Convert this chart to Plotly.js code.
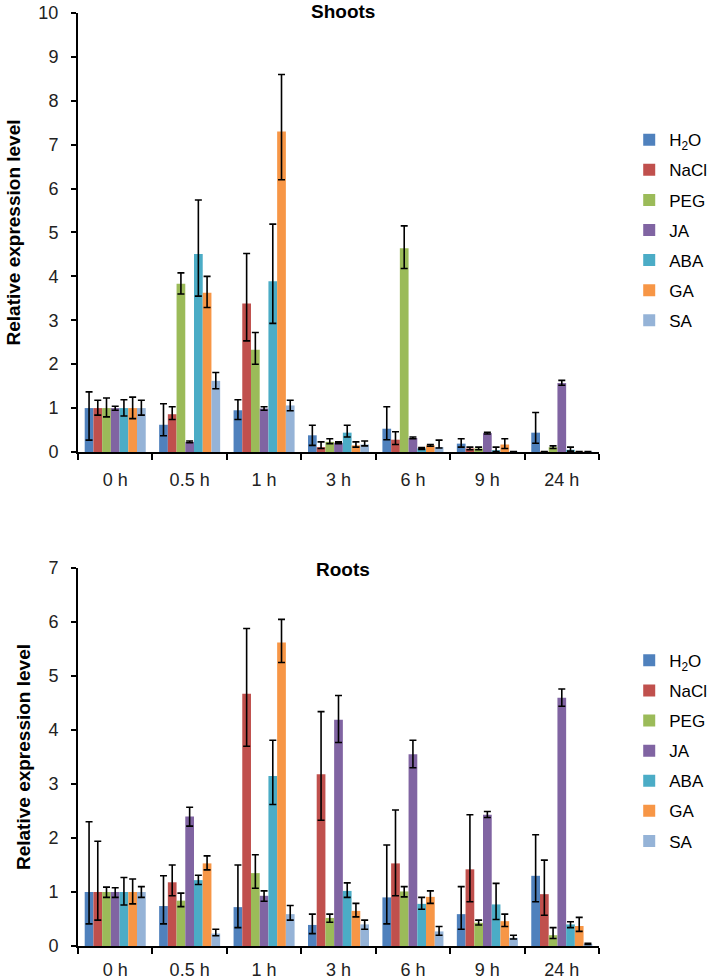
<!DOCTYPE html>
<html>
<head>
<meta charset="utf-8">
<script src="https://cdn.plot.ly/plotly-3.0.1.min.js"></script>
<style>html,body{margin:0;padding:0;background:#fff;}#chart{width:724px;height:980px;}</style>
</head>
<body>
<div id="chart"></div>
<script>
// ---------- data ----------
const timepoints = ["0 h", "0.5 h", "1 h", "3 h", "6 h", "9 h", "24 h"];
const treatments = ["H<sub>2</sub>O", "NaCl", "PEG", "JA", "ABA", "GA", "SA"];

// Shoots
const shootsH2O      = [1.00, 0.62, 0.95, 0.38, 0.53, 0.19, 0.44];
const shootsH2OUp    = [0.37, 0.48, 0.24, 0.23, 0.50, 0.11, 0.46];
const shootsH2ODown  = [0.73, 0.25, 0.21, 0.23, 0.25, 0.08, 0.24];
const shootsNaCl     = [1.00, 0.86, 3.38, 0.11, 0.28, 0.08, 0.01];
const shootsNaClUp   = [0.18, 0.17, 1.14, 0.12, 0.18, 0.03, 0.00];
const shootsNaClDown = [0.16, 0.12, 0.85, 0.03, 0.11, 0.03, 0.00];
const shootsPEG      = [1.00, 3.83, 2.33, 0.23, 4.64, 0.08, 0.11];
const shootsPEGUp    = [0.23, 0.25, 0.39, 0.07, 0.51, 0.03, 0.03];
const shootsPEGDown  = [0.20, 0.23, 0.33, 0.04, 0.46, 0.03, 0.03];
const shootsJA       = [1.00, 0.23, 0.99, 0.21, 0.32, 0.43, 1.57];
const shootsJAUp     = [0.04, 0.02, 0.04, 0.02, 0.02, 0.02, 0.06];
const shootsJADown   = [0.05, 0.02, 0.04, 0.02, 0.02, 0.02, 0.05];
const shootsABA      = [1.00, 4.51, 3.89, 0.44, 0.08, 0.04, 0.05];
const shootsABAUp    = [0.19, 1.23, 1.30, 0.17, 0.02, 0.07, 0.06];
const shootsABADown  = [0.18, 0.96, 0.96, 0.10, 0.02, 0.03, 0.03];
const shootsGA       = [1.00, 3.63, 7.30, 0.15, 0.15, 0.17, 0.01];
const shootsGAUp     = [0.25, 0.37, 1.30, 0.08, 0.02, 0.13, 0.00];
const shootsGADown   = [0.24, 0.34, 1.10, 0.04, 0.02, 0.09, 0.00];
const shootsSA       = [1.00, 1.62, 1.06, 0.17, 0.11, 0.01, 0.01];
const shootsSAUp     = [0.18, 0.19, 0.12, 0.08, 0.16, 0.00, 0.00];
const shootsSADown   = [0.16, 0.18, 0.12, 0.03, 0.02, 0.00, 0.00];

// Roots
const rootsH2O      = [1.00, 0.74, 0.72, 0.39, 0.90, 0.59, 1.30];
const rootsH2OUp    = [1.30, 0.56, 0.78, 0.20, 0.97, 0.51, 0.76];
const rootsH2ODown  = [0.59, 0.33, 0.38, 0.16, 0.49, 0.28, 0.48];
const rootsNaCl     = [1.00, 1.18, 4.67, 3.18, 1.53, 1.42, 0.96];
const rootsNaClUp   = [0.94, 0.32, 1.21, 1.16, 0.99, 1.01, 0.63];
const rootsNaClDown = [0.52, 0.25, 0.97, 0.85, 0.60, 0.60, 0.39];
const rootsPEG      = [1.00, 0.84, 1.35, 0.52, 1.01, 0.43, 0.20];
const rootsPEGUp    = [0.09, 0.14, 0.34, 0.07, 0.09, 0.05, 0.14];
const rootsPEGDown  = [0.10, 0.11, 0.28, 0.08, 0.10, 0.04, 0.06];
const rootsJA       = [1.00, 2.40, 0.93, 4.19, 3.55, 2.43, 4.60];
const rootsJAUp     = [0.08, 0.17, 0.09, 0.45, 0.26, 0.06, 0.16];
const rootsJADown   = [0.10, 0.18, 0.10, 0.42, 0.25, 0.05, 0.16];
const rootsABA      = [1.00, 1.22, 3.15, 1.02, 0.78, 0.77, 0.40];
const rootsABAUp    = [0.27, 0.09, 0.66, 0.15, 0.12, 0.39, 0.05];
const rootsABADown  = [0.24, 0.08, 0.53, 0.12, 0.10, 0.28, 0.06];
const rootsGA       = [1.00, 1.53, 5.62, 0.65, 0.91, 0.46, 0.37];
const rootsGAUp     = [0.24, 0.14, 0.43, 0.14, 0.11, 0.13, 0.16];
const rootsGADown   = [0.22, 0.12, 0.37, 0.11, 0.12, 0.10, 0.10];
const rootsSA       = [1.00, 0.23, 0.59, 0.40, 0.27, 0.15, 0.04];
const rootsSAUp     = [0.10, 0.08, 0.16, 0.08, 0.09, 0.05, 0.01];
const rootsSADown   = [0.10, 0.04, 0.11, 0.09, 0.07, 0.02, 0.01];

// ---------- styles ----------
const colors = ["#4F81BD", "#C0504D", "#9BBB59", "#8064A2", "#4BACC6", "#F79646", "#95B3D7"];

const shootsSeries = [
  [shootsH2O, shootsH2OUp, shootsH2ODown],
  [shootsNaCl, shootsNaClUp, shootsNaClDown],
  [shootsPEG, shootsPEGUp, shootsPEGDown],
  [shootsJA, shootsJAUp, shootsJADown],
  [shootsABA, shootsABAUp, shootsABADown],
  [shootsGA, shootsGAUp, shootsGADown],
  [shootsSA, shootsSAUp, shootsSADown]
];
const rootsSeries = [
  [rootsH2O, rootsH2OUp, rootsH2ODown],
  [rootsNaCl, rootsNaClUp, rootsNaClDown],
  [rootsPEG, rootsPEGUp, rootsPEGDown],
  [rootsJA, rootsJAUp, rootsJADown],
  [rootsABA, rootsABAUp, rootsABADown],
  [rootsGA, rootsGAUp, rootsGADown],
  [rootsSA, rootsSAUp, rootsSADown]
];

const traces = [];
function addTraces(series, xa, ya, legendName, groupPrefix) {
  series.forEach((s, i) => {
    traces.push({
      type: "bar",
      x: timepoints,
      y: s[0],
      name: treatments[i],
      xaxis: xa,
      yaxis: ya,
      legend: legendName,
      legendgroup: groupPrefix + i,
      marker: { color: colors[i], line: { width: 0 } },
      error_y: {
        type: "data",
        symmetric: false,
        array: s[1],
        arrayminus: s[2],
        color: "#000",
        thickness: 1.6,
        width: 3.5
      }
    });
  });
}
addTraces(shootsSeries, "x", "y", "legend", "s");
addTraces(rootsSeries, "x2", "y2", "legend2", "r");

const FONT = "Liberation Sans, Arial, sans-serif";
const axisFont = { family: FONT, size: 18, color: "#222" };
const titleFont = { family: FONT, size: 19, color: "#000", weight: "bold" };

const xaxisBase = {
  type: "category",
  tickson: "boundaries",
  ticks: "outside",
  ticklen: 6,
  tickwidth: 2,
  tickcolor: "#000",
  showline: true,
  linecolor: "#000",
  linewidth: 2,
  showgrid: false,
  zeroline: false,
  tickfont: axisFont,
  ticklabelstandoff: 6,
  fixedrange: true
};
const yaxisBase = {
  ticks: "outside",
  ticklen: 5,
  tickwidth: 2,
  tickcolor: "#000",
  showline: true,
  linecolor: "#000",
  linewidth: 2,
  showgrid: false,
  zeroline: false,
  tickfont: axisFont,
  ticklabelstandoff: 9,
  dtick: 1,
  fixedrange: true,
  title: { text: "Relative expression level", font: titleFont, standoff: 13 }
};

const legendBase = {
  xanchor: "left",
  yanchor: "top",
  x: 1.058,
  font: { family: FONT, size: 17, color: "#000" },
  tracegroupgap: 5,
  bgcolor: "rgba(0,0,0,0)",
  itemclick: false
};

const layout = {
  width: 724,
  height: 980,
  margin: { l: 78, r: 94, t: 13, b: 34 },
  paper_bgcolor: "#fff",
  plot_bgcolor: "#fff",
  barmode: "group",
  bargap: 0.18,
  bargroupgap: 0,
  showlegend: true,
  xaxis: Object.assign({}, xaxisBase, { anchor: "y", domain: [0, 1], ticklabelstandoff: 10 }),
  yaxis: Object.assign({}, yaxisBase, { anchor: "x", domain: [0.5295, 1], range: [0, 10] }),
  xaxis2: Object.assign({}, xaxisBase, { anchor: "y2", domain: [0, 1] }),
  yaxis2: Object.assign({}, yaxisBase, { anchor: "x2", domain: [0, 0.4051], range: [0, 7] }),
  legend: Object.assign({}, legendBase, { y: 0.883 }),
  legend2: Object.assign({}, legendBase, { y: 0.325 }),
  annotations: [
    { text: "<b>Shoots</b>", xref: "paper", yref: "paper", x: 0.509, y: 1.002, xanchor: "center", yanchor: "middle",
      showarrow: false, font: { family: FONT, size: 19, color: "#000" } },
    { text: "<b>Roots</b>", xref: "paper", yref: "paper", x: 0.509, y: 0.404, xanchor: "center", yanchor: "middle",
      showarrow: false, font: { family: FONT, size: 19, color: "#000" } }
  ]
};

Plotly.newPlot("chart", traces, layout, { displayModeBar: false, staticPlot: true });
</script>
</body>
</html>
